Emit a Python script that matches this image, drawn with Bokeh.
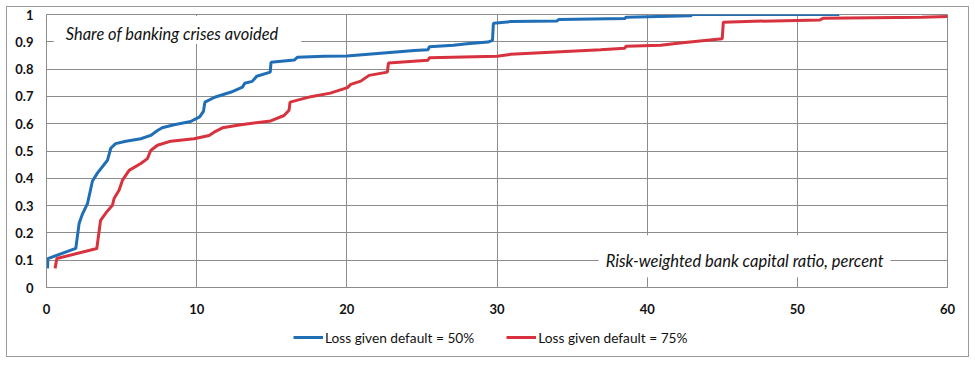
from bokeh.plotting import figure
from bokeh.layouts import column
from bokeh.models import (Range1d, FixedTicker, NumeralTickFormatter, Label,
                          Legend, LegendItem)
from bokeh.embed import file_html
from bokeh.resources import INLINE

# ---- data ----
blue_x = [0.07, 0.09, 1.95, 2.17, 2.4, 2.73, 3.06, 3.4, 4.06, 4.28, 4.6, 5.28,
          6.28, 6.94, 7.39, 7.7, 8.5, 9.6, 10.2, 10.45, 10.55, 11.2, 12.3,
          13.05, 13.2, 13.7, 14.0, 14.9, 14.95, 16.5, 16.7, 18.5, 20.0, 24.5,
          25.4, 25.5, 27.1, 28.0, 29.4, 29.7, 29.76, 30.9, 34.0, 34.1, 38.5,
          38.6, 42.9, 43.0, 52.8]
blue_y = [0.07, 0.106, 0.143, 0.234, 0.27, 0.307, 0.39, 0.42, 0.466, 0.51,
          0.527, 0.536, 0.545, 0.557, 0.575, 0.585, 0.596, 0.608, 0.625, 0.645,
          0.679, 0.697, 0.716, 0.734, 0.748, 0.755, 0.774, 0.789, 0.825, 0.833,
          0.843, 0.847, 0.848, 0.868, 0.871, 0.882, 0.887, 0.893, 0.899, 0.905,
          0.968, 0.974, 0.976, 0.982, 0.985, 0.99, 0.995, 1.0, 1.0]

red_x = [0.57, 0.69, 3.35, 3.6, 4.01, 4.39, 4.5, 4.83, 5.06, 5.5, 6.28, 6.72,
         6.94, 7.39, 8.28, 9.83, 10.83, 11.16, 11.72, 12.94, 14.93, 15.82,
         16.15, 16.22, 17.6, 18.9, 20.04, 20.26, 20.93, 21.48, 22.7, 22.77,
         25.4, 25.5, 30.0, 30.9, 36.9, 38.5, 38.6, 40.9, 42.2, 45.0, 45.07,
         47.1, 51.5, 51.7, 58.3, 60.0]
red_y = [0.07, 0.106, 0.143, 0.246, 0.277, 0.301, 0.326, 0.356, 0.393, 0.429,
         0.454, 0.472, 0.502, 0.521, 0.536, 0.545, 0.557, 0.569, 0.585, 0.596,
         0.61, 0.63, 0.649, 0.679, 0.699, 0.712, 0.732, 0.744, 0.756, 0.777,
         0.789, 0.822, 0.832, 0.842, 0.847, 0.854, 0.871, 0.876, 0.884, 0.887,
         0.896, 0.911, 0.972, 0.975, 0.98, 0.986, 0.99, 0.993]

x_ticks = [0, 10, 20, 30, 40, 50, 60]
y_ticks = [0, 0.1, 0.2, 0.3, 0.4, 0.5, 0.6, 0.7, 0.8, 0.9, 1.0]

series_names = ["Loss given default = 50%", "Loss given default = 75%"]
y_title = "Share of banking  crises avoided"
x_title = "Risk-weighted bank capital ratio, percent"

BLUE = "#1f6eb6"
RED = "#d7323d"
GRID = "#8c8c8c"
FONT = "Lato"

p = figure(width=961, height=314, output_backend="svg", toolbar_location=None,
           x_range=Range1d(0, 60), y_range=Range1d(0, 1),
           min_border_left=39, min_border_right=21, min_border_top=7,
           min_border_bottom=34)

p.outline_line_color = GRID
p.outline_line_width = 1

for ax in (p.xaxis[0], p.yaxis[0]):
    ax.axis_line_color = GRID
    ax.major_tick_in = 0
    ax.major_tick_out = 0
    ax.minor_tick_in = 0
    ax.minor_tick_out = 0
    ax.major_label_text_font = FONT
    ax.major_label_text_font_size = "13px"
    ax.major_label_text_font_style = "bold"
    ax.major_label_text_color = "#111111"

p.xaxis.ticker = FixedTicker(ticks=x_ticks)
p.yaxis.ticker = FixedTicker(ticks=y_ticks)
p.yaxis.formatter = NumeralTickFormatter(format="0.[0]")
p.xaxis.major_label_standoff = 16
p.yaxis.major_label_standoff = 13

p.xgrid.ticker = FixedTicker(ticks=x_ticks)
p.ygrid.ticker = FixedTicker(ticks=y_ticks)
for g in (p.xgrid[0], p.ygrid[0]):
    g.grid_line_color = GRID
    g.grid_line_width = 1

p.line(blue_x, blue_y, line_color=BLUE, line_width=3)
p.line(red_x, red_y, line_color=RED, line_width=3)

lab1 = Label(x=0.49, y=0.943, text=y_title, text_font=FONT,
             text_font_style="italic", text_font_size="16.4px",
             text_baseline="middle", text_align="left", text_color="#111111",
             background_fill_color="white",
             padding=dict(left=12, right=19, top=8, bottom=1))
lab2 = Label(x=36.77, y=0.1145, text=x_title, text_font=FONT,
             text_font_style="italic", text_font_size="16.5px",
             text_baseline="middle", text_align="left", text_color="#111111",
             background_fill_color="white",
             padding=dict(left=7, right=7, top=16, bottom=6))
p.add_layout(lab1)
p.add_layout(lab2)

# legend strip below the chart (its series lie outside this strip's view)
leg = figure(width=961, height=35, output_backend="svg", toolbar_location=None,
             x_axis_type=None, y_axis_type=None,
             x_range=Range1d(1000, 1001), y_range=Range1d(1000, 1001),
             min_border=0)
leg.outline_line_color = None
leg.grid.visible = False
lb = leg.line(blue_x, blue_y, line_color=BLUE, line_width=3)
lr = leg.line(red_x, red_y, line_color=RED, line_width=3)
legend = Legend(items=[LegendItem(label=series_names[0], renderers=[lb]),
                       LegendItem(label=series_names[1], renderers=[lr])],
                location=(247, 9), orientation="horizontal",
                glyph_width=30, glyph_height=20, label_standoff=2, spacing=32,
                padding=0, margin=0, border_line_color=None,
                background_fill_alpha=0, label_text_font=FONT,
                label_text_font_size="13.7px", label_text_color="#111111")
leg.add_layout(legend, "center")

page = column(p, leg, spacing=0,
              styles={"border": "1px solid #9a9a9a", "margin": "6px 0 0 6px"})

open("out.html", "w").write(file_html(page, INLINE))
